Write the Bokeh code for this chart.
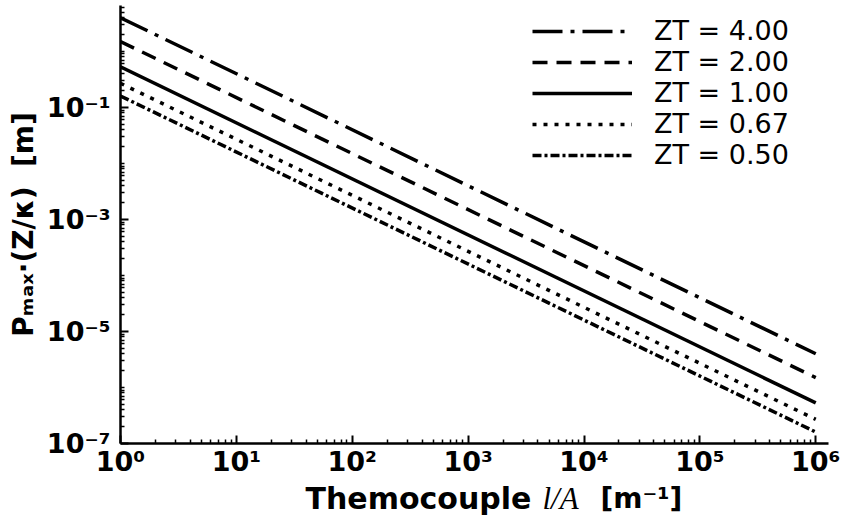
from bokeh.plotting import figure
from bokeh.layouts import column
from bokeh.models import FixedTicker, CustomJSTickFormatter
from bokeh.core.properties import value
from bokeh.embed import file_html
from bokeh.resources import INLINE

# ---- data ----
series_labels = ["ZT = 4.00", "ZT = 2.00", "ZT = 1.00", "ZT = 0.67", "ZT = 0.50"]
x_values = [1.0, 1.0e6]                       # thermocouple l/A [1/m]
y_at_x_start = [4.0, 1.5, 0.53, 0.27, 0.16]   # Pmax*(Z/k) at l/A = 1
y_at_x_end = [4.0e-6, 1.5e-6, 5.3e-7, 2.7e-7, 1.6e-7]  # at l/A = 1e6
line_dashes = ["30 8 4 8", "15 9", "solid", "4 7", "9 3 3 3"]

x_major_ticks = [1e0, 1e1, 1e2, 1e3, 1e4, 1e5, 1e6]
y_major_ticks = [1e-7, 1e-5, 1e-3, 1e-1]
x_minor_ticks = [m * 10.0 ** k for k in range(0, 6) for m in range(2, 10)]
y_minor_ticks = [m * 10.0 ** k for k in range(-7, 1) for m in range(1, 10)
                 if not (m == 1 and 10.0 ** k in y_major_ticks)]

x_title_parts = ["Themocouple", "l/A", "[m\u207b\u00b9]"]
y_title = "P\u2098\u2090\u2093\u00b7(Z/\u03ba)\u00a0\u00a0[m]"

FONT = "DejaVu Sans"

p = figure(width=845, height=479, x_axis_type="log", y_axis_type="log",
           x_range=(1.0, 10 ** 6.11), y_range=(1e-7, 10 ** 0.82),
           output_backend="svg", toolbar_location=None,
           min_border_left=120, min_border_right=17,
           min_border_top=5, min_border_bottom=36)
p.outline_line_color = None
p.xgrid.visible = False
p.ygrid.visible = False
p.background_fill_color = "white"

for lab, y0, y1, dash in zip(series_labels, y_at_x_start, y_at_x_end, line_dashes):
    p.line(x_values, [y0, y1], line_color="black", line_width=3.5,
           line_dash=dash, legend_label=lab)

fmt = CustomJSTickFormatter(code="""
const sup = {"-":"\u207b","0":"\u2070","1":"\u00b9","2":"\u00b2","3":"\u00b3",
             "4":"\u2074","5":"\u2075","6":"\u2076","7":"\u2077","8":"\u2078","9":"\u2079"};
const e = Math.round(Math.log10(tick)).toString();
return "10" + e.split("").map(c => sup[c]).join("");
""")

for ax, ticks, minors in ((p.xaxis[0], x_major_ticks, x_minor_ticks),
                          (p.yaxis[0], y_major_ticks, y_minor_ticks)):
    ax.ticker = FixedTicker(ticks=ticks, minor_ticks=minors)
    ax.formatter = fmt
    ax.axis_line_width = 2.5
    ax.axis_line_color = "black"
    ax.major_tick_in = 8
    ax.major_tick_out = 0
    ax.minor_tick_in = 4
    ax.minor_tick_out = 0
    ax.major_tick_line_width = 2
    ax.minor_tick_line_width = 1.5
    ax.major_label_text_font = FONT
    ax.major_label_text_font_style = "bold"
    ax.major_label_text_font_size = "27px"
    ax.major_label_text_color = "black"

p.xaxis.major_label_standoff = 2
p.yaxis.major_label_standoff = 10

p.yaxis.axis_label = y_title
p.yaxis.axis_label_text_font = FONT
p.yaxis.axis_label_text_font_style = "bold"
p.yaxis.axis_label_text_font_size = "28px"
p.yaxis.axis_label_text_color = "black"
p.yaxis.axis_label_standoff = 4

lg = p.legend[0]
lg.location = (412, 273)
lg.border_line_color = None
lg.background_fill_alpha = 0
lg.label_text_font = FONT
lg.label_text_font_size = "27px"
lg.label_text_color = "black"
lg.glyph_width = 100
lg.glyph_height = 28
lg.label_height = 28
lg.label_standoff = 22
lg.spacing = 0
lg.padding = 0
lg.margin = 0

# ---- x-axis title strip (mixed bold / italic text) ----
# frame of this strip is aligned with the main frame (page px 120..828)
t = figure(width=845, height=40, x_range=(120, 828), y_range=(0, 40),
           output_backend="svg", toolbar_location=None,
           x_axis_location=None, y_axis_location=None,
           min_border_left=120, min_border_right=17,
           min_border_top=0, min_border_bottom=0)
t.outline_line_color = None
t.xgrid.visible = False
t.ygrid.visible = False
t.text(x=[305], y=[21], text=[x_title_parts[0]], text_font=value(FONT),
       text_font_style="bold", text_font_size="30px", text_color="black",
       text_baseline="alphabetic")
t.text(x=[542], y=[21], text=[x_title_parts[1]], text_font=value("Liberation Serif"),
       text_font_style="italic", text_font_size="31px", text_color="black",
       text_baseline="alphabetic")
t.text(x=[600], y=[21], text=[x_title_parts[2]], text_font=value(FONT),
       text_font_style="bold", text_font_size="28px", text_color="black",
       text_baseline="alphabetic")

layout = column(p, t, spacing=0)
open("out.html", "w").write(file_html(layout, INLINE))
